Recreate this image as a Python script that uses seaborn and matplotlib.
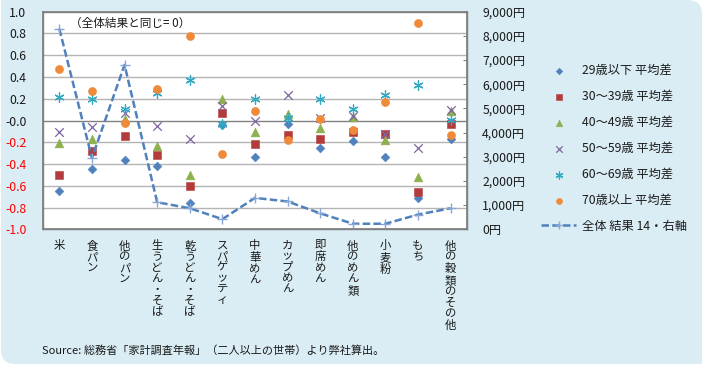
import numpy as np
import pandas as pd
import matplotlib
matplotlib.use('Agg')
import matplotlib.pyplot as plt
import matplotlib.patches as mpatches
from matplotlib.transforms import IdentityTransform
import seaborn as sns

# categories (x axis)
cats = ['米', '食パン', '他のパン', '生うどん・そば', '乾うどん・そば', 'スパゲッティ',
        '中華めん', 'カップめん', '即席めん', '他のめん類', '小麦粉', 'もち', '他の穀類のその他']

# deviation from overall result per age group (left axis)
age29 = [-0.65, -0.45, -0.36, -0.42, -0.76, -0.04, -0.34, -0.035, -0.25, -0.19, -0.34, -0.71, -0.17]
age30 = [-0.50, -0.28, -0.14, -0.32, -0.60, 0.07, -0.22, -0.13, -0.17, -0.11, -0.12, -0.66, -0.03]
age40 = [-0.21, -0.17, 0.01, -0.23, -0.50, 0.20, -0.11, 0.06, -0.07, 0.03, -0.18, -0.52, 0.09]
age50 = [-0.11, -0.06, 0.07, -0.05, -0.17, 0.13, 0.00, 0.23, 0.02, 0.04, -0.12, -0.25, 0.10]
age60 = [0.22, 0.195, 0.11, 0.25, 0.37, -0.035, 0.20, 0.02, 0.20, 0.11, 0.235, 0.33, 0.005]
age70 = [0.47, 0.27, -0.02, 0.29, 0.78, -0.31, 0.09, -0.18, 0.01, -0.09, 0.17, 0.90, -0.13]

# overall result 2014 (right axis, yen)
total = [8300, 2950, 6800, 1120, 870, 420, 1300, 1150, 660, 230, 230, 610, 870]

series_names = ['29歳以下 平均差', '30～39歳 平均差', '40～49歳 平均差',
                '50～59歳 平均差', '60～69歳 平均差', '70歳以上 平均差']
line_name = '全体 結果 14・右軸'

sns.set_theme(style='white')
plt.rcParams['font.family'] = ['Noto Sans CJK JP', 'DejaVu Sans']
plt.rcParams['axes.unicode_minus'] = False

fig = plt.figure(figsize=(7.03, 3.66), dpi=100, facecolor='white')

# light blue background, rounded top-right and bottom-left corners
bg = '#daedf4'
fig.patches.append(mpatches.FancyBboxPatch((1, 2), 701, 364, boxstyle='round,pad=0,rounding_size=14',
                                           transform=IdentityTransform(), fc=bg, ec='none', zorder=-10))
fig.patches.append(mpatches.Rectangle((1, 340), 40, 26, transform=IdentityTransform(), fc=bg, ec='none', zorder=-9))
fig.patches.append(mpatches.Rectangle((662, 2), 40, 26, transform=IdentityTransform(), fc=bg, ec='none', zorder=-9))

ax = fig.add_axes([43/703, 1 - 229.3/366, 424/703, 217.6/366])
ax.set_facecolor('white')

df = pd.DataFrame({'cat': cats, 'a29': age29, 'a30': age30, 'a40': age40,
                   'a50': age50, 'a60': age60, 'a70': age70, 'total': total})

styles = [
    ('a29', 'D', '#4f81bd', 20, 0.4),
    ('a30', 's', '#b33b3b', 34, 0.4),
    ('a40', '^', '#8fb04f', 40, 0.4),
    ('a50', 'x', '#8064a2', 38, 0.9),
    ('a60', (6, 2, 0), '#2fa8c4', 44, 0.9),
    ('a70', 'o', '#ee8a3a', 34, 0.4),
]
for (col, mk, colr, sz, lw), name in zip(styles, series_names):
    sns.scatterplot(data=df, x='cat', y=col, marker=mk, color=colr, s=sz, linewidth=lw,
                    edgecolor=colr, ax=ax, legend=False, label=name, zorder=3)

ax.set_xlim(-0.5, len(cats) - 0.5)
ax.set_ylim(-1.0, 1.0)
yt = np.round(np.arange(-1.0, 1.01, 0.2), 1)
ax.set_yticks(yt)
ax.set_yticklabels([f'{v:.1f}' for v in yt], fontsize=8.8)
for lab, v in zip(ax.get_yticklabels(), yt):
    lab.set_color('#ff0000' if v < 0 else '#1a1a1a')
ax.tick_params(axis='y', length=0, pad=12)
for v in yt[1:-1]:
    ax.axhline(v, color='#808080' if v == 0 else '#b4b4b4', lw=1.0, zorder=1)

ax.set_xticks(range(len(cats)))
ax.set_xticklabels(['\n'.join(c) for c in cats], fontsize=8.2, linespacing=1.1,
                   va='top', color='#1a1a1a')
ax.tick_params(axis='x', length=0, pad=8)
ax.set_xlabel('')
ax.set_ylabel('')
for sp in ax.spines.values():
    sp.set_color('#808080')
    sp.set_linewidth(1.0)

ax.text(0.064, 0.948, '（全体結果と同じ= 0）', transform=ax.transAxes, fontsize=8.4,
        va='center', ha='left', color='#1a1a1a')

# right axis line
ax2 = ax.twinx()
sns.lineplot(data=df, x='cat', y='total', sort=False, ax=ax2, color='#4f81bd', lw=1.8,
             linestyle=(0, (3, 1.3)), marker='+', markersize=7, markeredgewidth=1.0,
             markeredgecolor='#8aa6d6', legend=False, label=line_name, zorder=2)
ax2.set_ylim(0, 9000)
ax2.set_yticks(range(0, 9001, 1000))
ax2.set_yticklabels([f'{v:,}円' for v in range(0, 9001, 1000)], fontsize=8.8, color='#1a1a1a')
ax2.tick_params(axis='y', direction='in', length=3, width=0.8, color='#808080', pad=11)
ax2.set_ylabel('')
ax2.set_xlim(-0.5, len(cats) - 0.5)
for sp in ax2.spines.values():
    sp.set_color('#808080')

h1, l1 = ax.get_legend_handles_labels()
h2, l2 = ax2.get_legend_handles_labels()
leg = ax2.legend(h1 + h2, l1 + l2, loc='upper left', bbox_to_anchor=(541/703, 1 - 64/366),
                 bbox_transform=fig.transFigure, frameon=False, fontsize=8.8,
                 handlelength=2.9, handletextpad=0.45, labelspacing=1.06, borderpad=0,
                 borderaxespad=0, markerscale=0.75)
for t in leg.get_texts():
    t.set_color('#1a1a1a')

fig.text(42/703, 1 - 351/366, 'Source: 総務省「家計調査年報」（二人以上の世帯）より弊社算出。',
         fontsize=8, va='center', ha='left', color='#1a1a1a')

fig.savefig('out.png', dpi=100, facecolor='white')
